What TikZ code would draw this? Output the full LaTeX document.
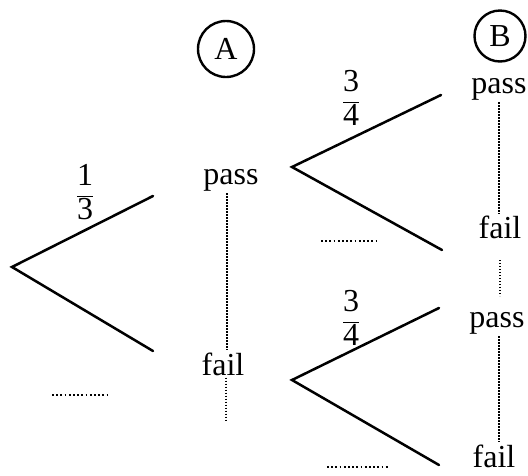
\documentclass[tikz,border=0pt]{standalone}
\usepackage{fontspec}
\setmainfont{Liberation Serif}
\usetikzlibrary{calc}
\begin{document}
\begin{tikzpicture}[x=1pt,y=-1pt,
  branch/.style={line width=2.5pt, line cap=round},
  vdots/.style={line width=1.6pt, dash pattern=on 1.4pt off 1.6pt},
  blank/.style={line width=2pt, dash pattern=on 1.8pt off 2.4pt},
  lbl/.style={font=\fontsize{32}{34}\selectfont, inner sep=2pt},
  frac/.style={font=\fontsize{32}{34}\selectfont, inner sep=0pt},
  tag/.style={draw, circle, line width=2.4pt, minimum size=56pt, inner sep=0pt, font=\fontsize{32}{34}\selectfont}]
\useasboundingbox (0,0) rectangle (528,475);
% circles
\node[tag] (A) at (226,49) {A};
\node[tag, minimum size=51pt] (B) at (500,36) {B};
% tree 1
\coordinate (v1) at (12,267);
\coordinate (u1) at (153,196);
\coordinate (l1) at (153,351);
\draw[branch] (u1) -- (v1) -- (l1);
\node[frac] (f1) at (85,192) {$\displaystyle\frac{\mbox{1}}{\mbox{3}}$};
\coordinate (b1s) at (52,395);
\coordinate (b1e) at (110,395);
\draw[blank] (b1s) -- (b1e);
% column A
\node[lbl] (passA) at (231,180) {pass};
\node[lbl] (failA) at (223,364) {fail};
\coordinate (endA) at (226,421);
\draw[vdots] (passA.south -| 227,0) -- (failA.north -| 227,0);
\draw[vdots] (failA.south -| 226,0) -- (endA);
% tree 2
\coordinate (v2) at (292,167);
\coordinate (u2) at (441,95);
\coordinate (l2) at (442,250);
\draw[branch] (u2) -- (v2) -- (l2);
\node[frac] (f2) at (351,98) {$\displaystyle\frac{\mbox{3}}{\mbox{4}}$};
\coordinate (b2s) at (321,241);
\coordinate (b2e) at (379,241);
\draw[blank] (b2s) -- (b2e);
% tree 3
\coordinate (v3) at (292,380);
\coordinate (u3) at (439,308);
\coordinate (l3) at (439,465);
\draw[branch] (u3) -- (v3) -- (l3);
\node[frac] (f3) at (351,318) {$\displaystyle\frac{\mbox{3}}{\mbox{4}}$};
\coordinate (b3s) at (327,467);
\coordinate (b3e) at (389,467);
\draw[blank] (b3s) -- (b3e);
% column B
\node[lbl] (passB1) at (499,89) {pass};
\node[lbl] (failB1) at (500,227) {fail};
\node[lbl] (passB2) at (497,323) {pass};
\node[lbl] (failB2) at (494,456) {fail};
\draw[vdots] (passB1.south -| 499,0) -- (failB1.north -| 499,0);
\coordinate (m1) at (500,260);
\coordinate (m2) at (500,296);
\draw[vdots] (m1) -- (m2);
\draw[vdots] (passB2.south -| 499,0) -- (failB2.north -| 499,0);
\end{tikzpicture}
\end{document}
